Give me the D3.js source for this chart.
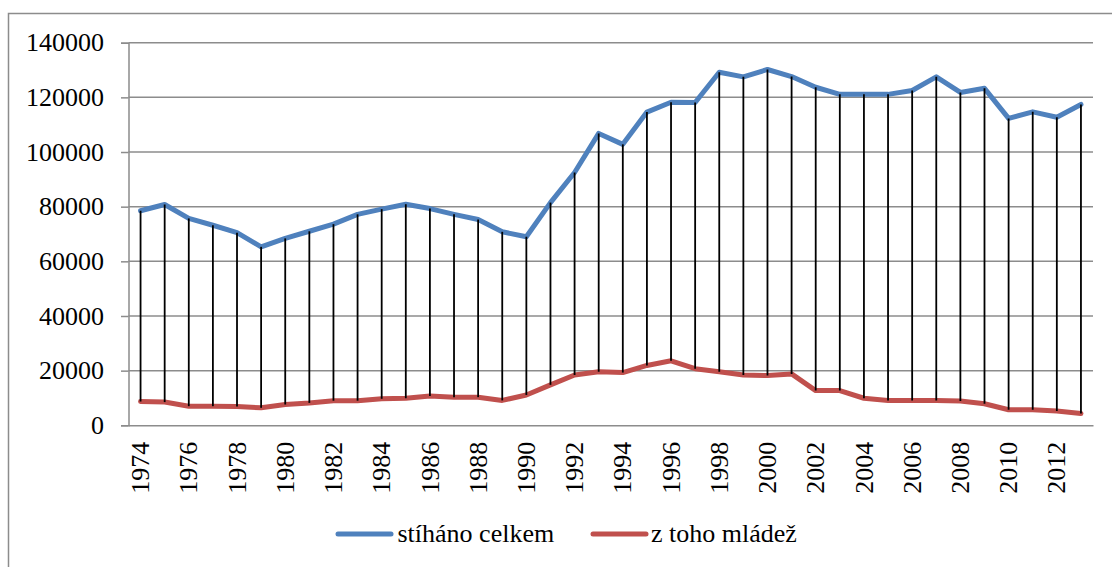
<!DOCTYPE html>
<html>
<head>
<meta charset="utf-8">
<script src="https://cdn.jsdelivr.net/npm/d3@7"></script>
<style>
  body { margin: 0; padding: 0; background: #fff; font-family: 'Liberation Serif', serif; }
  #wrap { position: relative; width: 1112px; height: 567px; font-family: 'Liberation Serif', serif; }
  #chart { position: absolute; left: 0; top: 0; }
  .legend-label { position: absolute; font-family: 'Liberation Serif', serif; font-size: 26px; line-height: 26px; white-space: nowrap; color: #000; }
</style>
</head>
<body>
<div id="wrap"><svg id="chart" width="1112" height="567"></svg></div>
<script>
const years = d3.range(1974, 2014).map(String);
const xTickLabels = years.filter((d, i) => i % 2 === 0);
const yTicks = [0, 20000, 40000, 60000, 80000, 100000, 120000, 140000];
const seriesNames = ["stíháno celkem", "z toho mládež"];
const stihanoCelkem = [78500, 80800, 75700, 73200, 70500, 65300, 68400, 71000, 73600, 77200,
  79100, 80900, 79300, 77200, 75300, 70800, 69000, 81500, 92500, 106800,
  102800, 114600, 118200, 118100, 129200, 127500, 130200, 127600, 123700, 121100,
  121100, 121100, 122500, 127500, 121800, 123300, 112300, 114700, 112700, 117400];
const mladez = [8700, 8500, 7000, 7000, 6900, 6400, 7600, 8200, 9000, 9000,
  9700, 9900, 10700, 10300, 10300, 9100, 11100, 14800, 18400, 19600,
  19300, 21900, 23600, 20700, 19600, 18400, 18200, 18800, 12700, 12700,
  9900, 9100, 9100, 9100, 8900, 7900, 5700, 5700, 5200, 4300];
const colors = ["#4F81BD", "#C0504D"];
const FONT = "Liberation Serif";

const svg = d3.select("#chart");
const plotLeft = 128.5, plotRight = 1093, plotTop = 42.7, plotBottom = 425.3;

svg.append("rect").attr("x", 8.5).attr("y", 13.5).attr("width", 1120).attr("height", 570)
  .attr("fill", "none").attr("stroke", "#8c8c8c").attr("stroke-width", 1.5);

const x = d3.scaleBand().domain(years).range([plotLeft, plotRight]);
const y = d3.scaleLinear().domain([0, 140000]).range([plotBottom, plotTop]);
const cx = d => x(d) + x.bandwidth() / 2;

svg.append("g").selectAll("line").data(yTicks.filter(d => d > 0)).join("line")
  .attr("x1", plotLeft).attr("x2", plotRight).attr("y1", d => y(d)).attr("y2", d => y(d))
  .attr("stroke", "#8c8c8c").attr("stroke-width", 1.5);

// y axis
const yAxis = svg.append("g").attr("transform", `translate(${plotLeft},0)`)
  .call(d3.axisLeft(y).tickValues(yTicks).tickSize(7.5).tickFormat(""));
yAxis.select(".domain").attr("stroke", "#8c8c8c").attr("stroke-width", 1.5);
yAxis.selectAll(".tick line").attr("stroke", "#8c8c8c").attr("stroke-width", 1.5);
yAxis.selectAll(".tick text").remove();
svg.append("g").selectAll("text").data(yTicks).join("text")
  .attr("x", plotLeft - 24.5).attr("y", d => y(d)).attr("dy", "0.33em")
  .attr("text-anchor", "end").attr("font-family", FONT).attr("font-size", 26)
  .text(d => d3.format("d")(d));

// x axis
const xAxis = svg.append("g").attr("transform", `translate(0,${plotBottom})`)
  .call(d3.axisBottom(x).tickValues(xTickLabels).tickSize(0).tickFormat(""));
xAxis.select(".domain").attr("stroke", "#8c8c8c").attr("stroke-width", 1.5);
xAxis.selectAll(".tick text").remove();
svg.append("g").selectAll("text").data(xTickLabels).join("text")
  .attr("transform", d => `translate(${cx(d)},${plotBottom + 16.5}) rotate(-90)`)
  .attr("dy", "0.33em").attr("text-anchor", "end")
  .attr("font-family", FONT).attr("font-size", 26)
  .text(d => d);

const line = d3.line().x((d, i) => cx(years[i])).y(d => y(d));
[stihanoCelkem, mladez].forEach((s, k) => {
  svg.append("path").datum(s).attr("d", line).attr("fill", "none")
    .attr("stroke", colors[k]).attr("stroke-width", 5)
    .attr("stroke-linejoin", "round").attr("stroke-linecap", "round");
});

svg.append("g").selectAll("line").data(years).join("line")
  .attr("x1", d => cx(d)).attr("x2", d => cx(d))
  .attr("y1", (d, i) => y(stihanoCelkem[i])).attr("y2", (d, i) => y(mladez[i]))
  .attr("stroke", "#000").attr("stroke-width", 1.8);

// legend: swatches in SVG, labels as HTML text
const legendItems = [{x: 338, tx: 397.5}, {x: 593, tx: 651}];
legendItems.forEach((l, k) => {
  svg.append("line").attr("x1", l.x).attr("x2", l.x + 53).attr("y1", 534).attr("y2", 534)
    .attr("stroke", colors[k]).attr("stroke-width", 5).attr("stroke-linecap", "round");
});
d3.select("#wrap").selectAll("div.legend-label").data(seriesNames).join("div")
  .attr("class", "legend-label")
  .style("left", (d, k) => legendItems[k].tx + "px")
  .style("top", "521px")
  .text(d => d);
</script>
</body>
</html>
